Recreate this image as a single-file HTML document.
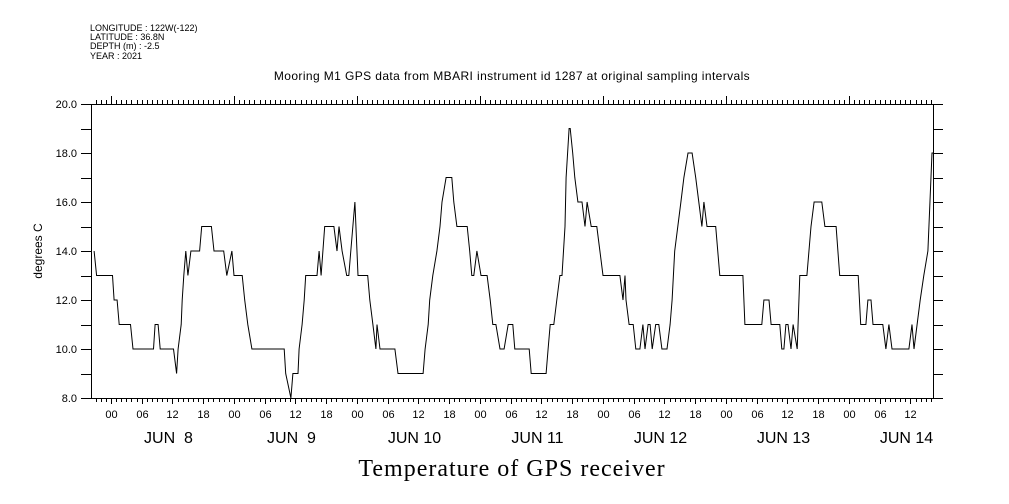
<!DOCTYPE html>
<html><head><meta charset="utf-8"><style>
body{margin:0;background:#fff;width:1009px;height:504px;overflow:hidden}
svg{display:block;font-family:"Liberation Sans",sans-serif}
text{white-space:pre}
</style></head><body>
<svg id="chart" width="1009" height="504" viewBox="0 0 1009 504">
<g font-size="9" fill="#000">
<text x="90" y="31">LONGITUDE : 122W(-122)</text>
<text x="90" y="40">LATITUDE : 36.8N</text>
<text x="90" y="49">DEPTH (m) : -2.5</text>
<text x="90" y="59">YEAR : 2021</text>
</g>
<text x="512" y="80" font-size="12" letter-spacing="0.4" text-anchor="middle">Mooring M1 GPS data from MBARI instrument id 1287 at original sampling intervals</text>
<text transform="translate(42,251) rotate(-90)" font-size="12" text-anchor="middle">degrees C</text>
<text x="512" y="476" font-size="24" letter-spacing="1" font-family="Liberation Serif, serif" text-anchor="middle">Temperature of GPS receiver</text>
<g id="axes"></g>
<g id="marks"></g>
</svg>
<script>
const times=[-3.3,-2.8,0.3,0.6,1.2,1.6,3.8,4.3,8.3,8.6,9.2,9.6,12.2,12.8,13.1,13.7,13.9,14.2,14.6,15.0,15.6,17.3,17.7,19.6,20.1,22.0,22.6,23.6,24.0,25.6,26.1,26.7,27.5,33.8,34.1,35.1,35.5,36.5,36.7,37.3,37.7,38.0,40.2,40.6,41.0,41.7,43.5,44.1,44.5,45.1,46.0,46.4,46.8,47.6,48.2,50.1,50.5,51.1,51.7,51.9,52.5,55.4,56.0,60.9,61.3,61.9,62.2,62.8,63.6,64.2,64.6,65.4,66.5,66.9,67.5,69.5,70.0,70.4,70.8,71.4,72.2,73.4,74.0,74.5,75.1,75.9,76.7,77.5,78.4,78.8,81.6,82.0,84.9,85.3,85.7,86.4,87.0,87.6,88.0,88.6,88.8,89.4,89.6,90.1,90.5,91.1,91.9,92.5,92.9,93.7,94.8,95.4,96.0,99.3,99.9,100.3,100.5,101.1,101.9,102.4,103.2,103.8,104.2,104.8,105.2,105.6,106.3,106.9,107.5,108.5,109.1,109.5,110.0,110.6,111.2,111.8,112.6,113.4,114.1,114.7,115.3,115.7,116.3,118.0,118.8,123.3,123.7,127.0,127.4,128.4,128.8,130.5,130.9,131.3,131.7,132.1,132.7,133.1,133.9,134.4,135.8,136.6,137.2,138.7,139.3,141.5,142.2,145.8,146.3,147.3,147.7,148.3,148.7,150.6,151.2,151.8,152.4,155.7,156.3,156.7,157.3,157.9,158.6,159.4,160.2,160.4];
const temps=[14,13,13,12,12,11,11,10,10,11,11,10,10,9,10,11,12,13,14,13,14,14,15,15,14,14,13,14,13,13,12,11,10,10,9,8,9,9,10,11,12,13,13,14,13,15,15,14,15,14,13,13,14,16,13,13,12,11,10,11,10,10,9,9,10,11,12,13,14,15,16,17,17,16,15,15,14,13,13,14,13,13,12,11,11,10,10,11,11,10,10,9,9,10,11,11,12,13,13,15,17,19,19,18,17,16,16,15,16,15,15,14,13,13,12,13,12,11,11,10,10,11,10,11,11,10,11,11,10,10,11,12,14,15,16,17,18,18,17,16,15,16,15,15,13,13,11,11,12,12,11,11,10,10,11,11,10,11,10,13,13,15,16,16,15,15,13,13,11,11,12,12,11,11,10,11,10,10,11,10,11,12,13,14,18,18];
const yTicks=[8,10,12,14,16,18,20];
const hourLabels=["00","06","12","18"];
const dayLabels=["JUN  8","JUN  9","JUN 10","JUN 11","JUN 12","JUN 13","JUN 14"];
const X0=91,X1=933,Y0=104,Y1=398,TMIN=-3.9,TMAX=160.4,VMIN=8,VMAX=20;
const NS="http://www.w3.org/2000/svg";
function xs(h){return X0+(h-TMIN)/(TMAX-TMIN)*(X1-X0);}
function ys(v){return Y1-(v-VMIN)/(VMAX-VMIN)*(Y1-Y0);}
const axes=document.getElementById('axes'),marks=document.getElementById('marks');
function ln(x1,y1,x2,y2,name){const l=document.createElementNS(NS,'line');l.setAttribute('x1',x1);l.setAttribute('y1',y1);l.setAttribute('x2',x2);l.setAttribute('y2',y2);l.setAttribute('stroke','#000');l.setAttribute('stroke-width','1');


axes.appendChild(l);return l;}
function tx(x,y,s,size,anchor,name){const t=document.createElementNS(NS,'text');t.setAttribute('x',x);t.setAttribute('y',y);t.setAttribute('font-size',size);t.setAttribute('text-anchor',anchor);t.textContent=s;


axes.appendChild(t);}
const r=document.createElementNS(NS,'rect');r.setAttribute('x',X0+0.5);r.setAttribute('y',Y0+0.5);r.setAttribute('width',X1-X0);r.setAttribute('height',Y1-Y0);r.setAttribute('fill','none');r.setAttribute('stroke','#000');


axes.appendChild(r);
for(let v=VMIN;v<=VMAX;v++){const y=Math.round(ys(v))+0.5;ln(X0-10,y,X0,y,'y-tick-left');ln(X1,y,X1+10,y,'y-tick-right');}
yTicks.forEach(v=>tx(X0-14,ys(v)+4,v.toFixed(1),11,'end','y-tick-label'));
for(let h=Math.ceil(TMIN);h<=TMAX;h++){const x=Math.round(xs(h))+0.5;const m=((h%24)+24)%24;
ln(x,Y1,x,Y1+(m%6===0?6:4),'x-tick-bottom');ln(x,Y0,x,Y0-(m===0?8:4),'x-tick-top');
if(m%6===0)tx(x,418,hourLabels[m/6],11,'middle','hour-label');
if(m===12&&h/24>=0){const d=Math.floor(h/24);if(d<dayLabels.length)tx(x-4,443,dayLabels[d],16,'middle','day-label');}}
const pl=document.createElementNS(NS,'polyline');
pl.setAttribute('points',times.map((t,i)=>xs(t).toFixed(1)+','+ys(temps[i]).toFixed(1)).join(' '));
pl.setAttribute('fill','none');pl.setAttribute('stroke','#000');pl.setAttribute('stroke-width','1');


marks.appendChild(pl);
</script>
</body></html>
